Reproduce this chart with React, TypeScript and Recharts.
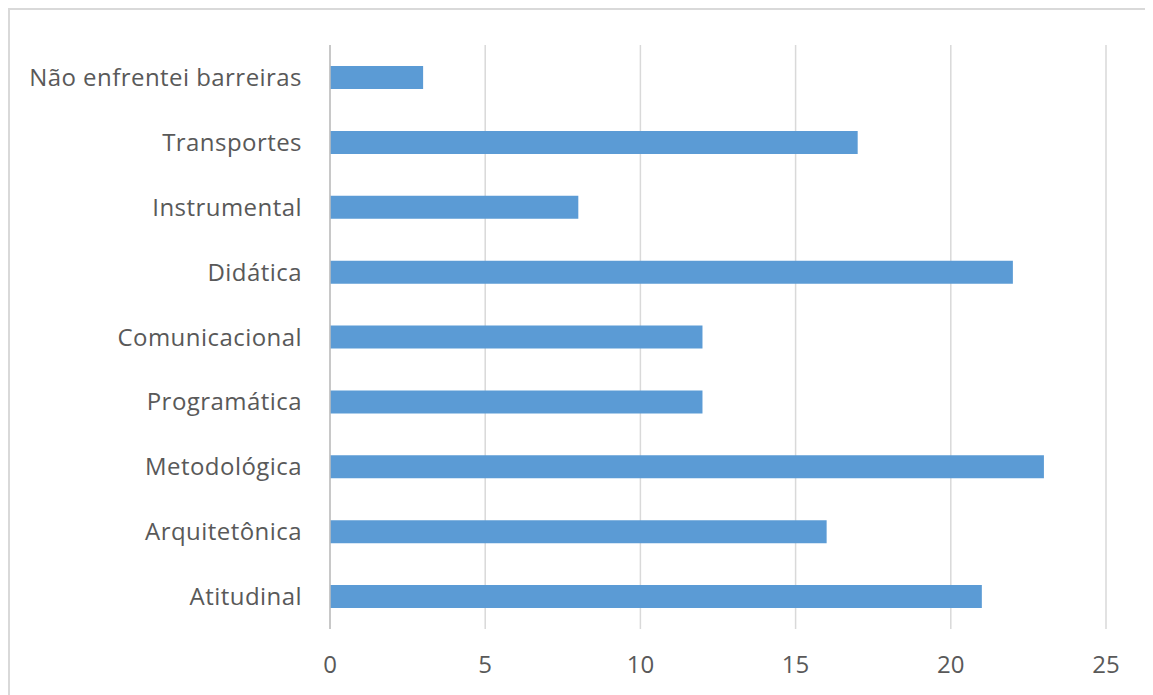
import React from "react";
import { BarChart, Bar, XAxis, YAxis, CartesianGrid } from "recharts";

const categories = [
  "Não enfrentei barreiras",
  "Transportes",
  "Instrumental",
  "Didática",
  "Comunicacional",
  "Programática",
  "Metodológica",
  "Arquitetônica",
  "Atitudinal",
];
const values = [3, 17, 8, 22, 12, 12, 23, 16, 21];
const xTicks = [0, 5, 10, 15, 20, 25];

const data = categories.map((name, i) => ({ name, value: values[i] }));

const FONT = "'Open Sans', sans-serif";

export default function App() {
  return (
    <div
      style={{
        width: 1144,
        height: 700,
        border: "2px solid #d9d9d9",
        boxSizing: "border-box",
        background: "#fff",
        position: "relative",
      }}
    >
      <BarChart
        width={1141}
        height={696}
        data={data}
        layout="vertical"
        margin={{ top: 37, right: 43, left: 0, bottom: 27 }}
        style={{ position: "absolute", left: -2, top: -2 }}
      >
        <CartesianGrid horizontal={false} vertical={true} stroke="#d9d9d9" strokeWidth={1.5} />
        <XAxis
          type="number"
          domain={[0, 25]}
          ticks={xTicks}
          axisLine={false}
          tickLine={false}
          tickSize={20}
          tickMargin={7}
          height={48}
          tick={{ fill: "#595959", fontSize: 24, fontFamily: FONT }}
        />
        <YAxis
          type="category"
          dataKey="name"
          width={322}
          axisLine={{ stroke: "#bfbfbf", strokeWidth: 1.5 }}
          tickLine={false}
          tickSize={20}
          tickMargin={8}
          interval={0}
          tick={{ fill: "#595959", fontSize: 24, fontFamily: FONT, letterSpacing: 0.45 }}
        />
        <Bar dataKey="value" fill="#5B9BD5" barSize={23} isAnimationActive={false} />
      </BarChart>
    </div>
  );
}
